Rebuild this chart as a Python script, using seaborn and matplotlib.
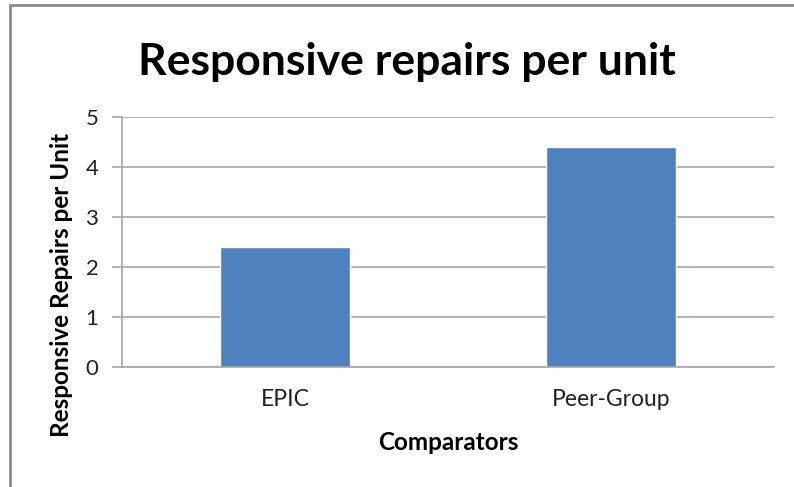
import matplotlib
matplotlib.use("Agg")
import matplotlib.pyplot as plt
import seaborn as sns
import pandas as pd
from matplotlib.patches import Rectangle

categories = ["EPIC", "Peer-Group"]
values = [2.4, 4.4]
yticks = [0, 1, 2, 3, 4, 5]

sns.set_style("white")
plt.rcParams['font.family'] = ['Lato', 'DejaVu Sans']

W, H = 794, 487
fig = plt.figure(figsize=(W / 100, H / 100), dpi=100)
ax = fig.add_axes([122 / W, 1 - 367 / H, (774 - 122) / W, (367 - 117) / H])

df = pd.DataFrame({"cat": categories, "val": values})
sns.barplot(data=df, x="cat", y="val", color="#4F81BD", saturation=1, width=0.4, ax=ax)

ax.set_ylim(0, 5)
ax.set_yticks(yticks)
ax.set_yticklabels([str(t) for t in yticks], fontsize=16, color="#222222")
ax.yaxis.grid(True, color="#A6A6A6", linewidth=1.2)
ax.set_axisbelow(True)
for s in ["top", "right"]:
    ax.spines[s].set_visible(False)
ax.spines["left"].set_color("#A6A6A6")
ax.spines["bottom"].set_color("#A6A6A6")
ax.spines["left"].set_linewidth(1.2)
ax.spines["bottom"].set_linewidth(1.2)
ax.tick_params(axis="y", length=7, width=1.2, color="#A6A6A6", pad=10, left=True)
ax.tick_params(axis="x", length=0, pad=16, labelsize=16.5, labelcolor="#222222")

ax.set_xlabel("Comparators", fontsize=17.5, fontweight="bold", va="center", color="black")
ax.xaxis.set_label_coords(0.5, (367 - 442) / 250)
ax.set_ylabel("Responsive Repairs per Unit", fontsize=17.5, fontweight="bold", va="center",
              color="black")
ax.yaxis.set_label_coords((62 - 122) / 652, (367 - 285) / 250)

fig.text(407 / W, 1 - 62 / H, "Responsive repairs per unit", ha="center", va="center",
         fontsize=32, fontweight="bold", color="black")

fig.patches.append(Rectangle((10 / W, -0.1), 1.2, 1 - 5 / H + 0.1, transform=fig.transFigure,
                             fill=False, edgecolor="#8C8C8C", linewidth=2))

fig.savefig("out.png", dpi=100)
